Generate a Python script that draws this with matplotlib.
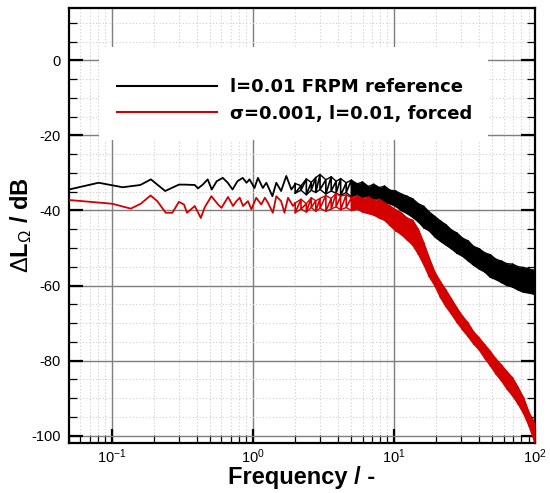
import numpy as np
import matplotlib
matplotlib.use("Agg")
import matplotlib.pyplot as plt
from matplotlib.patches import Rectangle
from matplotlib.ticker import MultipleLocator, LogLocator, NullFormatter

plt.rcParams['font.family'] = ['Liberation Sans', 'DejaVu Sans']
plt.rcParams['mathtext.fontset'] = 'custom'
plt.rcParams['mathtext.rm'] = 'Liberation Sans'
plt.rcParams['mathtext.it'] = 'Liberation Sans:italic'
plt.rcParams['mathtext.bf'] = 'Liberation Sans:bold'
plt.rcParams['axes.unicode_minus'] = False

labels = ["l=0.01 FRPM reference", "σ=0.001, l=0.01, forced"]

# low frequency part, single spectrum line
ref_f = [0.05, 0.081, 0.12, 0.16, 0.19, 0.24, 0.30, 0.331, 0.389, 0.41, 0.443, 0.48,
         0.513, 0.556, 0.614, 0.666, 0.72, 0.78, 0.85, 0.905, 0.95, 1.03, 1.09, 1.18,
         1.25, 1.38, 1.47, 1.59, 1.73, 1.88, 2.0]
ref_db = [-34.4, -32.6, -33.8, -33.2, -31.7, -34.8, -33.1, -33.1, -33.2, -34.1, -33.1, -31.7,
          -34.4, -32.2, -31.3, -32.6, -34.4, -32.2, -31.3, -32.6, -31.7, -34.0, -31.3, -34.0,
          -32.6, -36.2, -32.6, -34.8, -30.8, -34.4, -33.0]

frc_f = [0.05, 0.101, 0.137, 0.161, 0.189, 0.211, 0.242, 0.27, 0.30, 0.326, 0.343, 0.389,
         0.429, 0.458, 0.51, 0.569, 0.601, 0.669, 0.726, 0.767, 0.81, 0.854, 0.926, 0.979,
         1.06, 1.15, 1.22, 1.28, 1.39, 1.47, 1.59, 1.68, 1.78, 1.93, 2.0]
frc_db = [-37.2, -38.2, -39.5, -38.2, -36.0, -37.5, -40.6, -40.6, -37.7, -38.4, -40.6, -38.8,
          -42.0, -39.1, -36.2, -38.4, -39.3, -36.4, -38.8, -37.5, -36.6, -38.8, -37.5, -39.7,
          -36.6, -38.4, -36.6, -37.9, -40.6, -36.2, -37.5, -40.6, -36.6, -38.8, -38.0]

# high frequency part: upper / lower envelope of the dense noisy band
band_f = [2.0, 2.2, 2.4, 2.6, 2.8, 3.0, 3.3, 3.6, 3.9, 4.2, 4.6, 5.0, 5.5, 6.0, 6.6,
          7.2, 7.9, 8.6, 9.4, 10.3, 11.3, 12.4, 13.6, 14.9, 16.3, 17.8, 19.5, 21.4, 23.4,
          25.6, 28.0, 30.7, 33.6, 36.8, 40.3, 44.1, 48.3, 52.9, 57.9, 63.4, 69.4, 76.0,
          83.2, 91.1, 100.0]
ref_hi = [-32.8, -33.4, -31.6, -32.5, -31.2, -30.4, -31.8, -31.0, -32.2, -31.5, -32.6, -31.9,
          -32.9, -32.4, -33.6, -33.0, -33.9, -33.5, -34.6, -34.8, -35.6, -36.2, -36.9, -38.2,
          -38.9, -40.4, -41.6, -42.8, -43.8, -45.2, -46.0, -47.4, -48.1, -49.6, -50.2, -51.3,
          -51.8, -53.0, -53.5, -54.2, -54.3, -55.0, -55.2, -55.6, -56.0]
ref_lo = [-35.4, -34.6, -35.8, -34.6, -35.2, -34.4, -35.6, -34.8, -35.4, -36.0, -35.2, -36.4,
          -35.8, -36.6, -36.2, -37.2, -36.8, -38.0, -38.2, -38.9, -40.0, -40.8, -41.8, -43.0,
          -44.6, -45.4, -47.0, -48.2, -49.2, -50.2, -51.4, -52.2, -53.4, -54.6, -55.6, -56.4,
          -57.8, -58.4, -59.2, -60.0, -60.4, -61.2, -61.8, -62.0, -62.4]
frc_hi = [-38.0, -37.0, -38.2, -36.6, -37.4, -36.8, -36.0, -36.8, -35.4, -36.2, -35.8, -36.6,
          -36.0, -36.8, -36.4, -37.2, -37.0, -38.0, -38.8, -39.8, -40.6, -42.0, -42.6, -45.0,
          -48.6, -52.6, -56.4, -59.0, -61.2, -63.6, -66.0, -68.2, -70.0, -72.4, -74.0, -75.8,
          -77.6, -79.6, -81.2, -83.0, -84.6, -87.2, -90.0, -94.0, -96.8]
frc_lo = [-40.6, -39.6, -40.4, -39.2, -40.2, -39.4, -40.2, -39.6, -39.0, -39.8, -39.2, -40.0,
          -39.6, -40.4, -40.8, -41.2, -42.0, -42.6, -44.0, -45.4, -46.4, -47.8, -49.2, -51.6,
          -54.4, -57.6, -60.0, -63.2, -65.6, -67.6, -69.8, -71.8, -73.6, -75.6, -77.2, -79.4,
          -81.4, -83.6, -85.4, -87.6, -89.4, -91.6, -94.2, -97.6, -102.0]

black = "#000000"
red = "#d40000"

fig = plt.figure(figsize=(5.5, 4.93), dpi=100)
ax = fig.add_axes([0.1255, 0.1014, 0.8472, 0.8824])
ax.set_xscale("log")
ax.set_xlim(0.05, 100)
ax.set_ylim(-102, 14)
ax.set_axisbelow(True)

bf = np.array(band_f)
for lo_f, lo_db, hi, lo, col in [(ref_f, ref_db, ref_hi, ref_lo, black),
                                 (frc_f, frc_db, frc_hi, frc_lo, red)]:
    ax.plot(lo_f, lo_db, color=col, lw=1.3, zorder=3)
    # zigzag between the two envelopes, plus a solid fill where the band is dense
    zx = np.ravel(np.column_stack([bf, bf]))
    zy = np.ravel(np.column_stack([hi, lo]))
    ax.plot(zx, zy, color=col, lw=1.2, zorder=3)
    ax.plot(bf, hi, color=col, lw=1.0, zorder=3)
    ax.plot(bf, lo, color=col, lw=1.0, zorder=3)
    ax.fill_between(bf, lo, hi, where=bf >= 5.0, color=col, lw=0, zorder=3)

# grid
ax.xaxis.set_major_locator(LogLocator(base=10, numticks=10))
ax.xaxis.set_minor_locator(LogLocator(base=10, subs=np.arange(2, 10), numticks=20))
ax.xaxis.set_minor_formatter(NullFormatter())
ax.yaxis.set_major_locator(MultipleLocator(20))
ax.yaxis.set_minor_locator(MultipleLocator(5))
ax.grid(which="major", color="#7f7f7f", lw=1.0, ls="-")
ax.grid(which="minor", color="#cfcfcf", lw=0.8, ls=(0, (1, 2)))

# white box behind the legend
ax.add_patch(Rectangle((0.064, 0.697), 0.836, 0.213, transform=ax.transAxes,
                       facecolor="white", edgecolor="none", zorder=1))

ax.tick_params(which="major", direction="in", length=10, width=1.6, labelsize=10.5,
               left=True, right=True, bottom=True, top=False)
ax.tick_params(axis="y", which="major", pad=6)
ax.tick_params(axis="x", which="major", pad=3)
ax.tick_params(which="minor", direction="in", length=6, width=0.9,
               left=True, right=True, bottom=True, top=False)
for s in ax.spines.values():
    s.set_linewidth(1.6)

ax.set_xlabel("Frequency / -", fontsize=17, fontweight="bold", labelpad=0)
ax.set_ylabel(r"$\Delta$L$_{\Omega}$ / dB", fontsize=17, fontweight="bold")
ax.yaxis.set_label_coords(-0.075, 0.5)

handles = [plt.Line2D([], [], color=black, lw=1.5),
           plt.Line2D([], [], color=red, lw=1.5)]
ax.legend(handles, labels, loc="upper left", bbox_to_anchor=(0.103, 0.838),
          frameon=False, borderpad=0, borderaxespad=0, handlelength=5.55,
          handletextpad=0.72, labelspacing=0.45,
          prop={"family": "DejaVu Sans", "weight": "bold", "size": 13})

fig.savefig("out.png", dpi=100)
